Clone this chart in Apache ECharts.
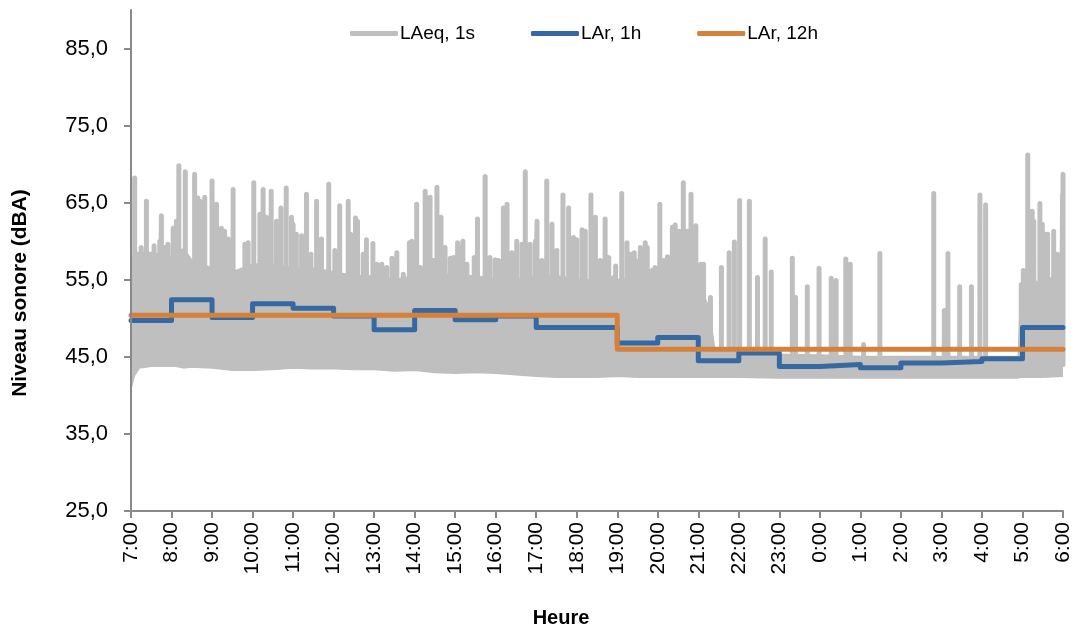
<!DOCTYPE html>
<html>
<head>
<meta charset="utf-8">
<script src="https://cdn.jsdelivr.net/npm/echarts@6/dist/echarts.min.js"></script>
<style>
  html, body { margin: 0; padding: 0; background: #fff; }
  #chart { width: 1075px; height: 634px; }
</style>
</head>
<body>
<div id="chart"></div>
<script>
// heures depuis 7:00 (0 = 7:00, 23 = 6:00)
const hourLabels = ['7:00','8:00','9:00','10:00','11:00','12:00','13:00','14:00','15:00','16:00','17:00','18:00',
  '19:00','20:00','21:00','22:00','23:00','0:00','1:00','2:00','3:00','4:00','5:00','6:00']
const yTicks = [25, 35, 45, 55, 65, 75, 85]

// LAr, 1h : une valeur par heure (7:00 -> 5:00)
const lar1h = [49.7, 52.4, 50.1, 51.9, 51.3, 50.3, 48.5, 51.0, 49.8, 50.3, 48.8, 48.8,
  46.8, 47.5, 44.5, 45.5, 43.75, 44.0, 43.6, 44.2, 44.4, 44.75, 48.8]

// LAr, 12h : jour (7h-19h) et nuit (19h-6h)
const lar12hStart = [0, 12]
const lar12h = [50.4, 46.0]

// LAeq, 1s : bande dense (bas / haut)
const bandHours = [0, 0.08, 0.2, 0.5, 1, 1.3, 1.5, 2, 2.5, 3, 3.5, 4, 4.5, 5, 5.5, 6, 6.5, 7, 7.5, 8, 8.5,
  9, 9.5, 10, 10.5, 11, 11.5, 12, 12.5, 13, 13.5, 14, 14.25, 14.4, 15, 16, 17, 18, 19, 20, 21, 21.9, 21.97,
  22.5, 23]
const bandLow = [41.0, 42.6, 43.6, 43.8, 43.9, 43.6, 43.7, 43.6, 43.3, 43.3, 43.4, 43.6, 43.5, 43.5, 43.4,
  43.4, 43.2, 43.3, 43.0, 42.9, 43.0, 42.9, 42.7, 42.5, 42.4, 42.4, 42.4, 42.5, 42.4, 42.4, 42.4, 42.4, 42.4,
  42.4, 42.4, 42.3, 42.3, 42.3, 42.3, 42.3, 42.3, 42.3, 42.4, 42.4, 42.5]
const bandHigh = [57.0, 58.5, 58.5, 58.5, 58.0, 59.0, 57.5, 56.5, 56.0, 57.0, 57.0, 56.5, 56.5, 56.0, 55.5,
  55.5, 55.0, 55.5, 56.0, 55.5, 55.5, 55.0, 55.0, 55.5, 55.5, 55.0, 55.0, 55.0, 55.0, 55.5, 55.5, 54.5, 51.5,
  46.0, 45.8, 45.3, 45.2, 45.0, 45.0, 45.0, 45.0, 45.0, 54.0, 55.0, 55.5]

// LAeq, 1s : grands pics (heure, niveau)
const spikeHours = [0.09, 0.38, 0.57, 0.75, 0.91, 1.04, 1.18, 1.34, 1.57, 1.70, 1.82, 2.00, 2.23, 2.52, 2.81,
  3.03, 3.26, 3.46, 3.70, 3.83, 4.00, 4.33, 4.58, 4.88, 5.15, 5.36, 5.54, 5.81, 5.97,
  6.19, 6.44, 6.56, 6.93, 7.05, 7.26, 7.38, 7.55, 7.65, 7.88, 8.06, 8.19, 8.55, 8.74, 8.99, 9.19, 9.28, 9.52,
  9.73, 9.85, 10.02, 10.26, 10.39, 10.66, 10.80, 11.00, 11.13, 11.35, 11.46, 11.70, 11.91,
  11.96, 12.11, 12.24, 12.42, 12.57, 12.69, 12.74, 12.93, 13.05, 13.24, 13.43, 13.63, 13.82, 13.94, 14.13, 14.30,
  14.57, 14.76, 14.89, 15.02, 15.26, 15.46, 15.65, 15.80, 16.32, 16.40, 16.69, 16.98, 17.28, 17.40, 17.64, 17.75,
  18.08, 18.48, 19.81, 20.07, 20.16, 20.45, 20.74, 20.95, 21.09,
  21.97, 22.02, 22.13, 22.24, 22.28, 22.43, 22.49, 22.57, 22.62, 22.77, 22.86, 22.96, 22.99, 23.0]
const spikePeaks = [68.2, 65.2, 59.4, 63.3, 59.6, 61.7, 69.8, 69.0, 68.7, 65.2, 65.7, 67.8, 61.7, 66.7, 59.6,
  67.6, 66.7, 66.5, 64.3, 66.9, 62.2, 66.1, 65.2, 67.4, 64.6, 65.2, 63.0, 60.2, 59.7,
  57.0, 57.8, 58.5, 60.0, 64.8, 66.5, 65.7, 67.0, 63.1, 57.8, 59.8, 60.0, 62.9, 68.4, 57.6, 64.3, 64.8, 60.0,
  69.0, 59.6, 62.6, 67.8, 62.2, 66.0, 64.3, 60.2, 61.5, 66.0, 63.1, 62.9, 55.3,
  56.8, 66.2, 59.8, 58.5, 59.2, 59.8, 59.2, 56.6, 64.8, 58.0, 62.1, 67.6, 66.1, 62.0, 57.0, 52.7,
  56.6, 58.5, 59.9, 65.3, 65.2, 55.3, 60.3, 56.0, 57.8, 52.7, 54.1, 56.5, 55.2, 54.9, 57.7, 57.0,
  46.6, 58.4, 66.2, 51.0, 58.4, 54.1, 54.1, 66.0, 64.7,
  54.4, 56.2, 71.2, 63.9, 62.6, 64.9, 62.2, 60.9, 60.9, 61.3, 58.3, 57.5, 66.1, 68.7]

// LAeq, 1s : pics moyens entre les grands
const minorHours = [0.25, 0.71, 0.83, 1.12, 1.65, 1.78, 2.11, 2.31, 2.40, 2.89, 3.18, 3.34, 3.59, 3.96, 4.08,
  4.21, 4.44, 4.70, 5.03, 5.42, 5.59, 5.73,
  6.07, 6.31, 6.72, 6.87, 7.14, 7.46, 7.75, 7.96, 8.12, 8.29, 8.47, 8.86, 9.07, 9.40, 9.65, 9.98, 10.14, 10.51,
  10.92, 11.21, 11.58, 11.79,
  12.33, 12.54, 12.86, 13.15, 13.36, 13.52, 13.73, 14.06]
const minorPeaks = [59.2, 60.0, 59.2, 62.6, 65.6, 64.8, 64.8, 61.3, 60.3, 59.8, 63.5, 63.1, 62.6, 63.1, 60.9,
  60.7, 58.3, 60.3, 58.8, 60.9, 62.6, 58.3,
  57.0, 56.6, 55.7, 59.8, 56.6, 57.5, 59.2, 57.9, 59.2, 57.0, 57.9, 57.9, 57.5, 58.5, 59.6, 60.0, 57.5, 58.8,
  60.5, 61.3, 57.5, 57.9,
  58.3, 57.5, 56.2, 57.5, 61.8, 61.3, 61.3, 57.0]

const GRAY = '#BFBFBF'
const BLUE = '#3669A2'
const ORANGE = '#D6813A'
const AXIS = '#898989'
const FONT = "'Liberation Sans', Arial, sans-serif"

const chartEl = document.getElementById('chart')
const myChart = echarts.init(chartEl, null, { renderer: 'canvas' })

const bandTop = bandHours.map((h, i) => [h, bandHigh[i]])
const bandBottom = bandHours.map((h, i) => [h, bandLow[i]])

// pics : on monte depuis la bande et on redescend
const spikeBase = 44
const allSpikes = spikeHours.map((h, i) => [h, spikePeaks[i]])
  .concat(minorHours.map((h, i) => [h, minorPeaks[i]]))
  .sort((a, b) => a[0] - b[0])
const spikeLine = []
allSpikes.forEach(([h, v]) => {
  spikeLine.push([h, spikeBase], [h, v], [h, spikeBase])
})

const lar1hLine = lar1h.map((v, i) => [i, v])
lar1hLine.push([23, lar1h[lar1h.length - 1]])
const lar12hLine = lar12hStart.map((h, i) => [h, lar12h[i]])
lar12hLine.push([23, lar12h[lar12h.length - 1]])

const options = {
  animation: false,
  grid: { left: 131, right: 12, top: 10, bottom: 123 },
  legend: {
    data: ['LAeq, 1s', 'LAr, 1h', 'LAr, 12h'],
    left: 345,
    top: 19,
    icon: 'roundRect',
    itemWidth: 48,
    itemHeight: 5,
    itemGap: 56,
    textStyle: { fontFamily: FONT, fontSize: 19, color: '#000', padding: [0, 0, 0, -3] }
  },
  xAxis: {
    type: 'value',
    min: 0,
    max: 23,
    interval: 1,
    z: 10,
    splitLine: { show: false },
    axisLine: { lineStyle: { color: AXIS, width: 2 } },
    axisTick: { length: 7, lineStyle: { color: AXIS, width: 2 } },
    axisLabel: {
      rotate: 90,
      margin: 11,
      fontFamily: FONT,
      fontSize: 21,
      color: '#000',
      formatter: v => hourLabels[Math.round(v)]
    }
  },
  yAxis: {
    type: 'value',
    min: 25,
    max: 90,
    z: 10,
    splitLine: { show: false },
    axisLine: { show: true, lineStyle: { color: AXIS, width: 2 } },
    axisTick: { show: true, length: 7, customValues: yTicks, lineStyle: { color: AXIS, width: 2 } },
    axisLabel: {
      margin: 23,
      fontFamily: FONT,
      fontSize: 22,
      color: '#000',
      customValues: yTicks,
      formatter: v => v.toFixed(1).replace('.', ',')
    }
  },
  graphic: [
    {
      type: 'text',
      x: 20,
      y: 293,
      rotation: Math.PI / 2,
      style: { text: 'Niveau sonore (dBA)', font: 'bold 21px ' + FONT, fill: '#000', align: 'center', verticalAlign: 'middle' }
    },
    {
      type: 'text',
      x: 561,
      y: 618,
      style: { text: 'Heure', font: 'bold 20px ' + FONT, fill: '#000', align: 'center', verticalAlign: 'middle' }
    }
  ],
  series: [
    {
      name: 'bandTop',
      type: 'line',
      data: bandTop,
      symbol: 'none',
      silent: true,
      lineStyle: { color: GRAY, width: 2 },
      areaStyle: { color: GRAY, opacity: 1, origin: 'start' },
      z: 1
    },
    {
      name: 'bandBottom',
      type: 'line',
      data: bandBottom,
      symbol: 'none',
      silent: true,
      lineStyle: { color: GRAY, width: 2 },
      areaStyle: { color: '#FFFFFF', opacity: 1, origin: 'start' },
      z: 2
    },
    {
      name: 'LAeq, 1s',
      type: 'line',
      data: spikeLine,
      symbol: 'none',
      color: GRAY,
      lineStyle: { color: GRAY, width: 5, join: 'round', cap: 'round' },
      z: 3
    },
    {
      name: 'LAr, 1h',
      type: 'line',
      step: 'end',
      data: lar1hLine,
      symbol: 'none',
      color: BLUE,
      lineStyle: { color: BLUE, width: 5, join: 'round', cap: 'round' },
      z: 4
    },
    {
      name: 'LAr, 12h',
      type: 'line',
      step: 'end',
      data: lar12hLine,
      symbol: 'none',
      color: ORANGE,
      lineStyle: { color: ORANGE, width: 5, join: 'round', cap: 'round' },
      z: 5
    }
  ]
}
myChart.setOption(options)
</script>
</body>
</html>
